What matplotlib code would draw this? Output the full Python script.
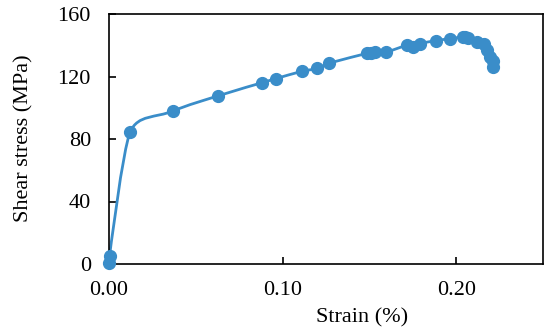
import matplotlib
matplotlib.use("Agg")
import matplotlib.pyplot as plt
import numpy as np
from matplotlib.path import Path
from matplotlib.patches import PathPatch

strain = [0.0, 0.0003, 0.0123, 0.0369, 0.0625, 0.0881, 0.0960, 0.1110, 0.1200,
          0.1270, 0.1485, 0.1510, 0.1535, 0.1594, 0.1715, 0.1750, 0.1792, 0.1883,
          0.1965, 0.2042, 0.2051, 0.2070, 0.2120, 0.2158, 0.2177, 0.2196, 0.2212,
          0.2212]
stress = [0.4, 5.0, 84.7, 97.9, 107.5, 116.0, 118.6, 123.3, 125.2,
          128.6, 134.8, 135.0, 135.5, 135.5, 140.0, 139.0, 141.0, 143.0,
          144.2, 145.5, 145.5, 144.5, 142.3, 140.9, 136.7, 132.5, 129.8,
          126.3]

xticks = [0.00, 0.10, 0.20]
yticks = [0, 40, 80, 120, 160]
xlabel = "Strain (%)"
ylabel = "Shear stress (MPa)"
color = "#3A8DC9"

plt.rcParams['font.family'] = ['Liberation Serif']
fig = plt.figure(figsize=(5.5, 3.35), dpi=100)
ax = fig.add_axes([109/550, 1 - 264/335, (543 - 109)/550, (264 - 14)/335])
ax.set_xlim(0, 0.25)
ax.set_ylim(0, 160)

# smoothed line through the data (cubic Bezier segments built in display space)
pts = ax.transData.transform(np.column_stack([strain, stress]))
n = len(pts)
seg = [np.hypot(*(pts[i + 1] - pts[i])) for i in range(n - 1)]
dirs = []
for i in range(n):
    d = pts[min(i + 1, n - 1)] - pts[max(i - 1, 0)]
    nrm = np.hypot(*d)
    dirs.append(d / nrm if nrm > 0 else np.zeros(2))
k = 0.4
verts = [pts[0]]
codes = [Path.MOVETO]
for i in range(n - 1):
    l1 = min(seg[i], seg[i - 1]) if i > 0 else seg[i]
    l2 = min(seg[i], seg[i + 1]) if i + 1 < n - 1 else seg[i]
    c1 = pts[i] + dirs[i] * l1 * k
    c2 = pts[i + 1] - dirs[i + 1] * l2 * k
    verts += [c1, c2, pts[i + 1]]
    codes += [Path.CURVE4] * 3
path = Path(ax.transData.inverted().transform(np.array(verts)), codes)
ax.add_patch(PathPatch(path, fill=False, edgecolor=color, lw=2.0, zorder=2,
                       capstyle='round', joinstyle='round'))
ax.plot(strain, stress, linestyle='none', marker='o', ms=8.5, color=color,
        zorder=3, clip_on=False)

ax.set_xticks(xticks)
ax.set_xticklabels([f"{v:.2f}" for v in xticks])
ax.set_yticks(yticks)
ax.tick_params(direction='in', length=5, width=1.2, labelsize=16, color='black')
ax.tick_params(axis='x', pad=12)
ax.tick_params(axis='y', pad=13)
for s in ax.spines.values():
    s.set_linewidth(1.2)
ax.set_xlabel(xlabel, fontsize=16)
ax.set_ylabel(ylabel, fontsize=16)
ax.xaxis.set_label_coords((362 - 109) / 434, -(318 - 264) / 250)
ax.yaxis.set_label_coords(-(109 - 24) / 434, (264 - 138) / 250)
ax.xaxis.label.set_va('center')
ax.yaxis.label.set_va('center')
fig.savefig("out.png", dpi=100)
